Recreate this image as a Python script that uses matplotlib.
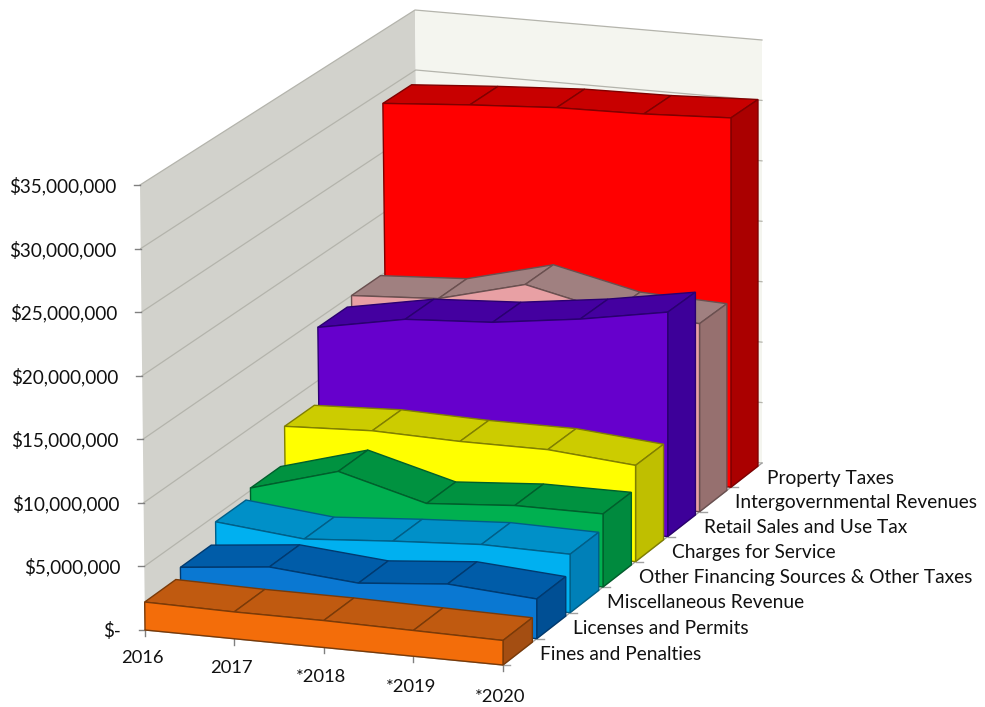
import numpy as np
import matplotlib.pyplot as plt
from matplotlib.patches import Polygon

plt.rcParams['font.family'] = ['Lato', 'DejaVu Sans']

years = ['2016', '2017', '*2018', '*2019', '*2020']
series = ['Fines and Penalties', 'Licenses and Permits', 'Miscellaneous Revenue',
          'Other Financing Sources & Other Taxes', 'Charges for Service',
          'Retail Sales and Use Tax', 'Intergovernmental Revenues', 'Property Taxes']

fines = [2.2, 2.1, 2.1, 2.0, 1.9]
licenses = [2.9, 3.6, 3.0, 3.6, 3.1]
misc = [4.5, 3.8, 4.3, 4.7, 4.6]
other = [5.2, 7.2, 5.3, 5.8, 5.8]
charges = [8.2, 8.5, 8.3, 8.3, 7.7]
retail = [14.3, 15.6, 16.0, 16.9, 18.1]
intergov = [15.0, 15.4, 17.2, 15.6, 15.3]
property_tax = [29.0, 29.5, 29.9, 30.0, 30.3]
values = [fines, licenses, misc, other, charges, retail, intergov, property_tax]

yticks = [0, 5, 10, 15, 20, 25, 30, 35]
ylabels = ['$-', '$5,000,000', '$10,000,000', '$15,000,000', '$20,000,000',
           '$25,000,000', '$30,000,000', '$35,000,000']

front_cols = ['#F36D0A', '#0A78D2', '#00B0F0', '#00B050', '#FFFF00', '#6600CC', '#E8A0A4', '#FF0000']
top_cols = ['#C05A10', '#005CA8', '#0090C8', '#009240', '#CCCC00', '#4400A0', '#A08080', '#C80000']
side_cols = ['#A44E12', '#004F94', '#0080B8', '#008A3E', '#BFBF00', '#3D0099', '#96706F', '#AA0000']
edge_cols = ['#7A3A08', '#003A70', '#005F88', '#005F2C', '#807F00', '#2A0070', '#6A5050', '#800000']

# floor corners in pixels, (year, depth) -> picture
src = [(0, 0), (4, 0), (4, 8), (0, 8)]
dst = [(145, 630), (503, 665), (762, 463), (420, 430)]
heights = [445, 452, 423, 420]  # pixels for 35M at those corners

rows = []
rhs = []
for (a, b), (c, d) in zip(src, dst):
    rows.append([a, b, 1, 0, 0, 0, -a * c, -b * c])
    rows.append([0, 0, 0, a, b, 1, -a * d, -b * d])
    rhs += [c, d]
H = np.append(np.linalg.solve(np.array(rows, float), np.array(rhs, float)), 1).reshape(3, 3)


def proj(u, v, val=0.0):
    p = H @ np.array([u, v, 1.0])
    x, y = p[0] / p[2], p[1] / p[2]
    s, t = u / 4, v / 8
    h = (heights[0] * (1 - s) * (1 - t) + heights[1] * s * (1 - t)
         + heights[2] * s * t + heights[3] * (1 - s) * t)
    lean = 5 * (1 - s)
    return x - lean * val / 35, y - h * val / 35


fig = plt.figure(figsize=(9.85, 7.07), dpi=100)
ax = fig.add_axes([0, 0, 1, 1])
ax.set_xlim(0, 985)
ax.set_ylim(707, 0)
ax.axis('off')

# walls
ax.add_patch(Polygon([proj(0, 0), proj(0, 8), proj(0, 8, 35), proj(0, 0, 35)],
                     fc='#D2D2CC', ec='none'))
ax.add_patch(Polygon([proj(0, 8), proj(4, 8), proj(4, 8, 35), proj(0, 8, 35)],
                     fc='#F4F5EF', ec='none'))
for t in yticks:
    a, b, c = proj(0, 0, t), proj(0, 8, t), proj(4, 8, t)
    ax.plot([a[0], b[0], c[0]], [a[1], b[1], c[1]], color='#B4B4AC', lw=0.9)
    ax.plot([a[0] - 6, a[0]], [a[1], a[1]], color='#808080', lw=1)

# floor edges and ticks
a, b, c = proj(0, 0), proj(4, 0), proj(4, 8)
ax.plot([a[0], b[0], c[0]], [a[1], b[1], c[1]], color='#A0A0A0', lw=1)
for i, lab in enumerate(years):
    x, y = proj(i, 0)
    ax.plot([x, x], [y, y + 6], color='#808080', lw=1)
    ax.text(x - 2.5, y + 28 + i, lab, ha='center', va='center', fontsize=13.2, color='#111111')
for i, lab in enumerate(series):
    x, y = proj(4, i)
    ax.plot([x, x + 7], [y, y], color='#A0A0A0', lw=1)
    x, y = proj(4, i + 0.5)
    ax.text(x + 20, y + 3, lab, ha='left', va='center', fontsize=13.8, color='#111111')
for t, lab in zip(yticks, ylabels):
    x, y = proj(0, 0, t)
    ax.text(x - 24, y + 1, lab, ha='right', va='center', fontsize=13.6, color='#111111')

# areas, back to front
depth = 0.87
for i in range(7, -1, -1):
    vals = values[i]
    v0, v1 = i, i + depth
    z = 10 + (7 - i) * 3
    for k in range(4):
        ax.add_patch(Polygon([proj(k, v0, vals[k]), proj(k + 1, v0, vals[k + 1]),
                              proj(k + 1, v1, vals[k + 1]), proj(k, v1, vals[k])],
                             fc=top_cols[i], ec=edge_cols[i], lw=1, zorder=z))
    ax.add_patch(Polygon([proj(4, v0), proj(4, v1), proj(4, v1, vals[4]), proj(4, v0, vals[4])],
                         fc=side_cols[i], ec=edge_cols[i], lw=1, zorder=z))
    pts = [proj(k, v0, vals[k]) for k in range(5)] + [proj(4, v0), proj(0, v0)]
    ax.add_patch(Polygon(pts, fc=front_cols[i], ec=edge_cols[i], lw=1, zorder=z + 1))

fig.savefig('out.png', dpi=100)
